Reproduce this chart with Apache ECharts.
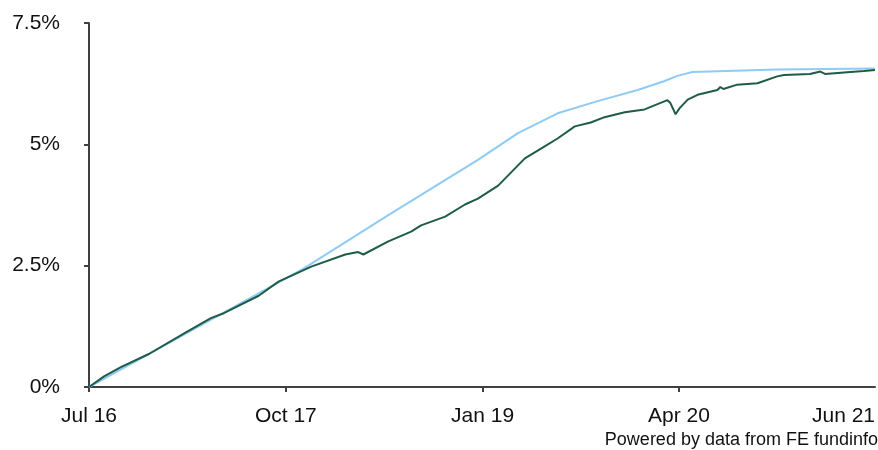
<!DOCTYPE html>
<html>
<head>
<meta charset="utf-8">
<script src="https://cdn.jsdelivr.net/npm/echarts@6/dist/echarts.min.js"></script>
<style>
html,body{margin:0;padding:0;background:#fff;}
#chart{width:878px;height:450px;}
</style>
</head>
<body>
<div id="chart"></div>
<script>
// Dark green line (fund)
const fundDates = ['2016-07-01','2016-08-05','2016-09-13','2016-11-17','2017-02-10','2017-04-10','2017-05-10','2017-07-30','2017-09-14','2017-11-29','2018-02-16','2018-03-18','2018-03-30','2018-05-27','2018-07-19','2018-08-11','2018-10-06','2018-11-21','2018-12-21','2019-02-06','2019-04-09','2019-05-25','2019-06-24','2019-08-03','2019-09-09','2019-10-11','2019-11-27','2020-01-12','2020-03-05','2020-03-12','2020-03-24','2020-04-02','2020-04-21','2020-05-14','2020-06-29','2020-07-06','2020-07-13','2020-08-14','2020-09-30','2020-11-15','2020-12-01','2021-01-30','2021-02-23','2021-03-06','2021-04-19','2021-06-04','2021-06-30'];
const fundValues = [0,0.22,0.41,0.68,1.12,1.42,1.52,1.88,2.17,2.48,2.73,2.78,2.73,3.00,3.20,3.33,3.51,3.76,3.88,4.15,4.71,4.96,5.12,5.37,5.45,5.56,5.66,5.72,5.91,5.85,5.62,5.74,5.92,6.02,6.12,6.18,6.14,6.23,6.26,6.40,6.43,6.45,6.50,6.45,6.48,6.51,6.53];
// Light blue line (benchmark)
const benchDates = ['2016-07-01','2017-03-13','2017-11-11','2018-05-27','2018-12-21','2019-03-24','2019-06-24','2019-09-25','2019-12-27','2020-02-26','2020-03-28','2020-05-02','2020-11-15','2021-06-30'];
const benchValues = [0,1.25,2.44,3.54,4.68,5.23,5.64,5.89,6.12,6.30,6.41,6.49,6.54,6.56];
// Axis labels
const startDate = '2016-07-01';
const endDate = '2021-06-30';
const xTickDates = ['2016-07-01','2017-10-01','2019-01-01','2020-04-01'];
const xLabelDates = ['2016-07-01','2017-10-01','2019-01-01','2020-04-01','2021-06-30'];
const xLabelTexts = ['Jul 16','Oct 17','Jan 19','Apr 20','Jun 21'];
const yTicks = [0,2.5,5,7.5];
const yLabelTexts = ['0%','2.5%','5%','7.5%'];

const DAY = 86400000;
const dayOf = d => Math.round((new Date(d + 'T00:00:00Z').getTime() - new Date(startDate + 'T00:00:00Z').getTime()) / DAY);
const labelMap = {};
xLabelDates.forEach((d,i)=>{ labelMap[dayOf(d)] = xLabelTexts[i]; });
const yMap = {};
yTicks.forEach((v,i)=>{ yMap[v] = yLabelTexts[i]; });

const chart = echarts.init(document.getElementById('chart'));
const font = "'Liberation Sans', Arial, sans-serif";
chart.setOption({
  animation:false,
  grid:{left:89,right:1,top:23,bottom:63,containLabel:false},
  xAxis:{
    type:'value',
    min:0,
    max:dayOf(endDate),
    axisLine:{lineStyle:{color:'#404040',width:2}},
    axisTick:{show:true,length:5,lineStyle:{color:'#404040',width:2},customValues:xTickDates.map(dayOf)},
    axisLabel:{
      customValues:xLabelDates.map(dayOf),
      formatter:v=>labelMap[v]||'',
      color:'#111',fontSize:21,fontFamily:font,margin:19,
      alignMaxLabel:'right'
    },
    splitLine:{show:false}
  },
  yAxis:{
    type:'value',min:0,max:7.5,interval:2.5,
    axisLine:{show:true,lineStyle:{color:'#404040',width:2}},
    axisTick:{show:true,length:5,lineStyle:{color:'#404040',width:2}},
    axisLabel:{formatter:v=>yMap[v]!==undefined?yMap[v]:'',color:'#111',fontSize:21,fontFamily:font,margin:29},
    splitLine:{show:false}
  },
  graphic:[{
    type:'text',right:0,bottom:1,
    style:{text:'Powered by data from FE fundinfo',font:'18px '+font,fill:'#111'}
  }],
  series:[
    {type:'line',name:'Fund',showSymbol:false,data:fundDates.map((d,i)=>[dayOf(d),fundValues[i]]),lineStyle:{color:'#1e5c48',width:2},itemStyle:{color:'#1e5c48'},z:3},
    {type:'line',name:'Benchmark',showSymbol:false,data:benchDates.map((d,i)=>[dayOf(d),benchValues[i]]),lineStyle:{color:'#8ecbf5',width:2},itemStyle:{color:'#8ecbf5'},z:2}
  ]
});
</script>
</body>
</html>
